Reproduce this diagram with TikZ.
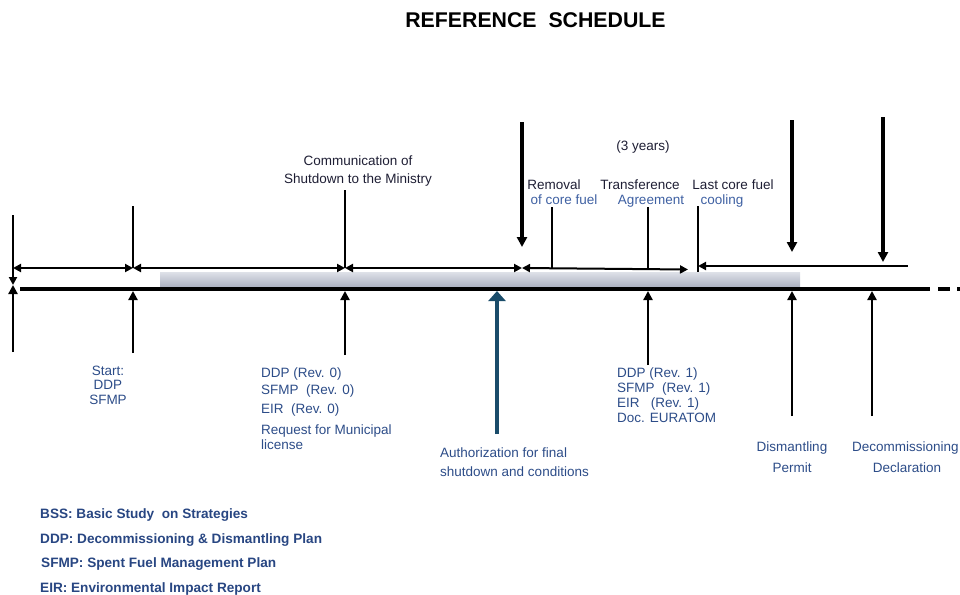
\documentclass[tikz,border=0pt]{standalone}
\usepackage{fontspec}
\setmainfont{Liberation Sans}
\usetikzlibrary{arrows.meta}
\definecolor{textdark}{RGB}{30,30,52}
\definecolor{labelblue}{RGB}{44,76,136}
\definecolor{subblue}{RGB}{62,96,162}
\definecolor{legendblue}{RGB}{40,70,130}
\definecolor{authteal}{RGB}{26,76,106}
\definecolor{bartop}{RGB}{166,172,188}
\definecolor{barbot}{RGB}{222,225,232}

\begin{document}
\begin{tikzpicture}[x=1pt, y=-1pt,
  every node/.style={font=\fontsize{13.5}{16}\selectfont, inner sep=0pt, text height=10pt, text depth=3pt},
  dark/.style={text=textdark},
  lblue/.style={text=labelblue},
  sblue/.style={text=subblue},
  legend/.style={text=legendblue, anchor=base west, font=\bfseries\fontsize{13.6}{15}\selectfont},
  dim/.style={line width=2pt, {Triangle[length=8pt,width=8pt]}-{Triangle[length=8pt,width=8pt]}},
  dimleft/.style={line width=2pt, {Triangle[length=8pt,width=8pt]}-},
  tick/.style={line width=1.3pt},
  smallup/.style={line width=2.2pt, -{Triangle[length=9pt,width=9pt]}},
  smalldown/.style={line width=2.2pt, -{Triangle[length=8pt,width=8pt]}},
  bigdown/.style={line width=3.4pt, -{Triangle[length=10pt,width=10pt]}},
  authup/.style={line width=3.4pt, authteal, -{Triangle[length=10pt,width=17pt]}}]
\useasboundingbox (0,0) rectangle (960,594);

% title
\node[font=\bfseries\fontsize{21.3}{24}\selectfont, anchor=base] (title) at (535.5,28) {REFERENCE\ \ SCHEDULE};

% shaded period and time line
\shade[top color=barbot, bottom color=bartop] (160,272) rectangle (800,288);
\coordinate (lineA) at (20,289);
\coordinate (lineB) at (930,289);
\coordinate (dashA) at (938,289);
\coordinate (dashB) at (968,289);
\draw[line width=3.2pt] (lineA) -- (lineB);
\draw[line width=3.2pt, dash pattern=on 12pt off 7pt] (dashA) -- (dashB);

% upper dimension line
\coordinate (d0) at (13,268);
\coordinate (d1) at (133,268);
\coordinate (d2) at (345,268);
\coordinate (d3) at (522,268);
\coordinate (d4) at (688,269.5);
\coordinate (d5) at (698,266);
\coordinate (d6) at (908,266);
\draw[dim] (d0) -- (d1);
\draw[dim] (d1) -- (d2);
\draw[dim] (d2) -- (d3);
\draw[dim] (d3) -- (d4);
\draw[dimleft] (d5) -- (d6);

% BSS start
\coordinate (bssTop) at (13,215);
\coordinate (bssMid) at (13,285);
\coordinate (bssLow) at (13,352);
\draw[smalldown] (bssTop) -- (bssMid);
\draw[smallup] (bssLow) -- (bssMid);

% DDP / SFMP start
\coordinate (startTop) at (133,206);
\coordinate (startLine) at (133,291);
\coordinate (startLow) at (133,353);
\draw[tick] (startTop) -- (d1);
\draw[smallup] (startLow) -- (startLine);

% communication of shutdown
\coordinate (commTop) at (345,190);
\coordinate (commLine) at (345,291);
\coordinate (commLow) at (345,355);
\draw[tick] (commTop) -- (d2);
\draw[smallup] (commLow) -- (commLine);

% final shutdown
\coordinate (shutTop) at (522,122);
\coordinate (shutTip) at (522,247);
\draw[bigdown] (shutTop) -- (shutTip);
\coordinate (authLow) at (497,434);
\coordinate (authLine) at (497,291);
\draw[authup] (authLow) -- (authLine);

% core fuel, transference, cooling
\coordinate (remTop) at (552,207);
\coordinate (remDim) at (552,268);
\draw[tick] (remTop) -- (remDim);
\coordinate (traTop) at (648,207);
\coordinate (traDim) at (648,269);
\coordinate (traLine) at (648,291);
\coordinate (traLow) at (648,365);
\draw[tick] (traTop) -- (traDim);
\draw[smallup] (traLow) -- (traLine);
\coordinate (coolTop) at (698,206);
\coordinate (coolDim) at (698,272);
\draw[tick] (coolTop) -- (coolDim);

% dismantling and decommissioning
\coordinate (dismTop) at (792,120);
\coordinate (dismTip) at (792,252);
\coordinate (dismLine) at (792,291);
\coordinate (dismLow) at (792,416);
\draw[bigdown] (dismTop) -- (dismTip);
\draw[smallup] (dismLow) -- (dismLine);
\coordinate (declTop) at (883,117);
\coordinate (declTip) at (883,262);
\coordinate (declLine) at (872,291);
\coordinate (declLow) at (872,416);
\draw[bigdown] (declTop) -- (declTip);
\draw[smallup] (declLow) -- (declLine);

% labels above
\node[dark, anchor=base] (comm1) at (358,165) {Communication of};
\node[dark, anchor=base] (comm2) at (358,183) {Shutdown to the Ministry};
\node[dark, anchor=base] (years) at (643,150) {(3 years)};
\node[dark, anchor=base] (rem1) at (554,189) {Removal};
\node[sblue, anchor=base] (rem2) at (564,204) {of core fuel};
\node[dark, anchor=base] (tra1) at (640,189) {Transference};
\node[sblue, anchor=base] (tra2) at (651,204) {Agreement};
\node[dark, anchor=base] (cool1) at (733,189) {Last core fuel};
\node[sblue, anchor=base] (cool2) at (722,204) {cooling};

% labels below
\node[lblue, anchor=base] (start1) at (108,375) {Start:};
\node[lblue, anchor=base] (start2) at (108,389) {DDP};
\node[lblue, anchor=base] (start3) at (108,404) {SFMP};
\node[lblue, anchor=base west] (rev0a) at (261,377) {DDP (Rev. 0)};
\node[lblue, anchor=base west] (rev0b) at (261,394) {SFMP\ \ (Rev. 0)};
\node[lblue, anchor=base west] (rev0c) at (261,413) {EIR\ \ (Rev. 0)};
\node[lblue, anchor=base west] (rev0d) at (261,434) {Request for Municipal};
\node[lblue, anchor=base west] (rev0e) at (261,449) {license};
\node[lblue, anchor=base west] (auth1) at (440,457) {Authorization for final};
\node[lblue, anchor=base west] (auth2) at (440,476) {shutdown and conditions};
\node[lblue, anchor=base west] (rev1a) at (617,377) {DDP (Rev. 1)};
\node[lblue, anchor=base west] (rev1b) at (617,392) {SFMP\ \ (Rev. 1)};
\node[lblue, anchor=base west] (rev1c) at (617,407) {EIR\ \ \ (Rev. 1)};
\node[lblue, anchor=base west] (rev1d) at (617,422) {Doc. EURATOM};
\node[lblue, anchor=base] (dism1) at (792,451) {Dismantling};
\node[lblue, anchor=base] (dism2) at (792,472) {Permit};
\node[lblue, anchor=base west] (decl1) at (852,451) {Decommissioning};
\node[lblue, anchor=base] (decl2) at (907,472) {Declaration};

% legend
\node[legend] (legBSS) at (40,518) {BSS:\ Basic Study\ \ on\ Strategies};
\node[legend] (legDDP) at (40,543) {DDP:\ Decommissioning \&\ Dismantling\ Plan};
\node[legend] (legSFMP) at (41,567) {SFMP:\ Spent Fuel Management Plan};
\node[legend] (legEIR) at (40,592) {EIR:\ Environmental\ Impact Report};
\end{tikzpicture}
\end{document}
